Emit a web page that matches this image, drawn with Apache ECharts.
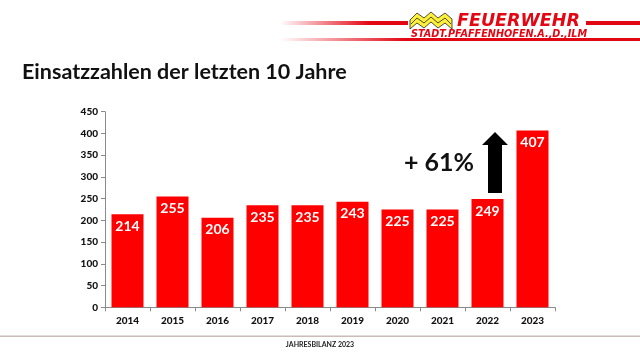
<!DOCTYPE html>
<html><head><meta charset="utf-8">
<script src="https://cdn.jsdelivr.net/npm/echarts@6/dist/echarts.min.js"></script>
<style>html,body{margin:0;padding:0;background:#fff}#c{width:640px;height:360px}</style>
</head><body><div id="c"></div>
<script>
var years = ['2014','2015','2016','2017','2018','2019','2020','2021','2022','2023'];
var einsaetze = [214,255,206,235,235,243,225,225,249,407];
var yTicks = [0,50,100,150,200,250,300,350,400,450];
var titleText = 'Einsatzzahlen der letzten 10 Jahre';
var growthText = '+ 61%';
var footerText = 'JAHRESBILANZ 2023';

var chart = echarts.init(document.getElementById('c'), null, {renderer:'canvas'});
var F = 'Lato, "Open Sans", sans-serif';
var red = '#e30613';
chart.setOption({
  animation:false,
  grid:{left:105, right:85, top:111.7, bottom:52.7},
  xAxis:{type:'category', data:years,
    axisLine:{lineStyle:{color:'#8a8a8a', width:1}},
    axisTick:{show:true, length:4, lineStyle:{color:'#8a8a8a'}},
    axisLabel:{color:'#111', fontFamily:F, fontWeight:900, fontSize:10, margin:8}},
  yAxis:{type:'value', min:yTicks[0], max:yTicks[yTicks.length-1], interval:50,
    splitLine:{show:false},
    axisLine:{show:true, lineStyle:{color:'#8a8a8a'}},
    axisTick:{show:true, length:4, lineStyle:{color:'#8a8a8a'}},
    axisLabel:{color:'#111', fontFamily:F, fontWeight:900, fontSize:10, margin:7}},
  series:[{type:'bar', data:einsaetze, barWidth:32,
    itemStyle:{color:'#ff0000'},
    label:{show:true, position:'insideTop', distance:5, color:'#fff',
      fontFamily:F, fontWeight:'bold', fontSize:14}}],
  graphic:[
    {type:'text', left:22, top:61, style:{text:titleText, font:'bold 21.5px '+F, fill:'#111'}},
    // header lines
    {type:'rect', shape:{x:280,y:21,width:128,height:4}, style:{fill:new echarts.graphic.LinearGradient(0,0,1,0,[{offset:0,color:'rgba(227,6,19,0)'},{offset:0.7,color:red},{offset:1,color:red}])}},
    {type:'rect', shape:{x:586,y:21,width:54,height:4}, style:{fill:red}},
    {type:'rect', shape:{x:280,y:38,width:360,height:3}, style:{fill:new echarts.graphic.LinearGradient(0,0,1,0,[{offset:0,color:'rgba(227,6,19,0)'},{offset:0.35,color:red},{offset:1,color:red}])}},
    {type:'polygon', shape:{points:[[410,20],[417,13],[424,18],[431,12],[438,18],[445,13],[452,19],[452,29],[445,23],[438,28],[431,22],[424,28],[417,23],[410,29]]},
      style:{fill:'#fff03a', stroke:'#222', lineWidth:0.8}},
    {type:'polyline', shape:{points:[[411,24],[417,18],[424,23],[431,17],[438,23],[445,18],[451,24]]}, style:{stroke:'#222', lineWidth:0.8, fill:null}},
    {type:'text', left:457, top:12, style:{text:'FEUERWEHR', font:'italic 900 17.5px "DejaVu Sans", sans-serif', fill:red}},
    {type:'text', left:411, top:29, style:{text:'STADT.PFAFFENHOFEN.A.,D.,ILM', font:'italic bold 9.7px "DejaVu Sans", sans-serif', fill:red}},
    // arrow and growth label
    {type:'polygon', shape:{points:[[488,193],[502,193],[502,145],[508,145],[495,132],[482,145],[488,145]]}, style:{fill:'#000'}},
    {type:'text', left:404, top:150, style:{text:growthText, font:'bold 25px '+F, fill:'#111'}},
    // footer
    {type:'rect', shape:{x:0,y:335.5,width:640,height:1.5}, style:{fill:'#c9bdb5'}},
    {type:'text', left:'center', top:341, style:{text:footerText, font:'bold 7px '+F, fill:'#222'}}
  ]
});
</script></body></html>
